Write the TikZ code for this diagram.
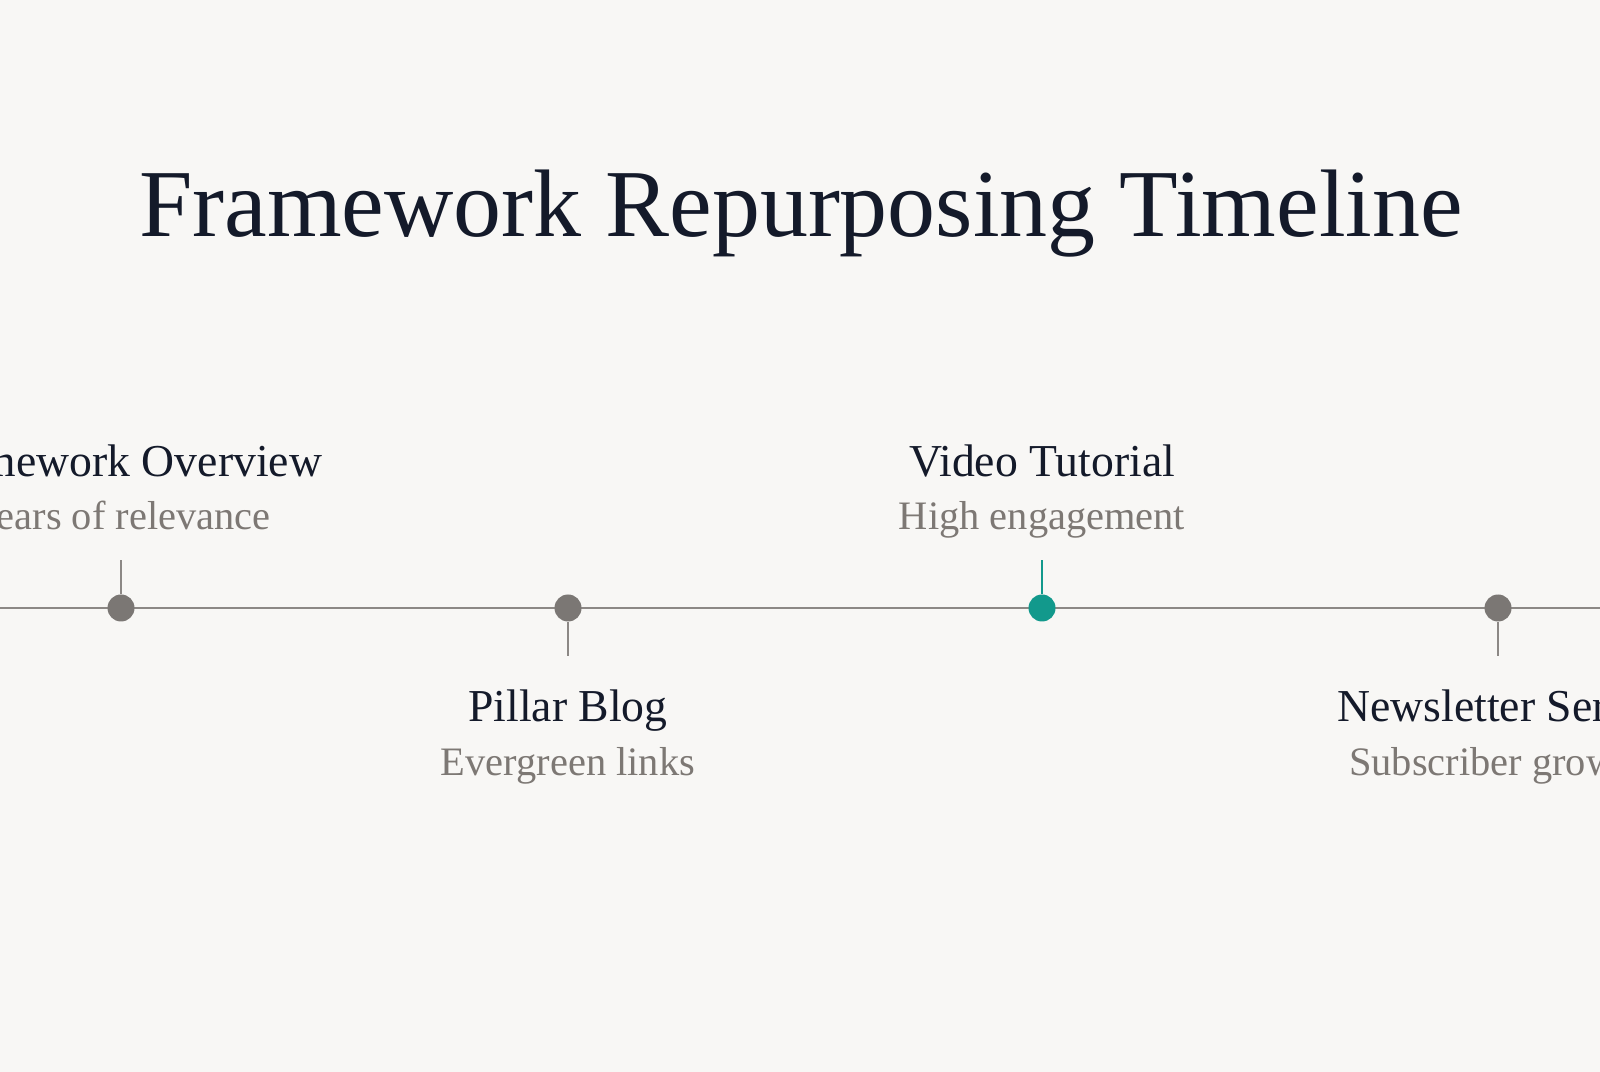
\documentclass[tikz,border=0pt]{standalone}
\usepackage{fontspec}
\setmainfont{Liberation Serif}
\usetikzlibrary{positioning}

\definecolor{paper}{HTML}{F8F7F5}
\definecolor{ink}{HTML}{141A2A}
\definecolor{muted}{HTML}{7D7874}
\definecolor{rail}{HTML}{8C8885}
\definecolor{stone}{HTML}{7B7774}
\definecolor{teal}{HTML}{12998C}

\tikzset{
	milestone/.style = {circle, fill = stone, inner sep = 0pt, minimum size = 0.27cm},
	stem/.style = {draw = rail, line width = 0.45pt},
	head/.style = {anchor = base, text = ink, font = \fontsize{13}{15}\selectfont},
	sub/.style = {anchor = base, text = muted, font = \fontsize{11.5}{14}\selectfont}
}

\begin{document}
\begin{tikzpicture}

	% The page

	\fill [paper] (0, 0) rectangle (16, -10.72);
	\useasboundingbox (0, 0) rectangle (16, -10.72);
	\clip (0, 0) rectangle (16, -10.72);

	% Title

	\node (title) [anchor = base, text = ink, font = \fontsize{27.3}{32}\selectfont] at (8.01, -2.37) {Framework Repurposing Timeline};

	% The rail

	\coordinate (railL) at (0, -6.08);
	\coordinate (railR) at (16, -6.08);
	\draw [rail, line width = 0.6pt] (railL) -- (railR);

	% Milestones

	\node (overview) [milestone] at (1.21, -6.08) {};
	\node (blog) [milestone] at (5.68, -6.08) {};
	\node (video) [milestone, fill = teal] at (10.42, -6.08) {};
	\node (letter) [milestone] at (14.98, -6.08) {};

	% Stems

	\coordinate (overviewTop) at (1.21, -5.60);
	\coordinate (blogBot) at (5.68, -6.56);
	\coordinate (videoTop) at (10.42, -5.60);
	\coordinate (letterBot) at (14.98, -6.56);

	\draw [stem] (overview) -- (overviewTop);
	\draw [stem] (blog) -- (blogBot);
	\draw [stem, draw = teal] (video) -- (videoTop);
	\draw [stem] (letter) -- (letterBot);

	% Labels

	\node (overviewHead) [head] at (1.21, -4.77) {Framework Overview};
	\node (overviewSub) [sub] at (1.21, -5.30) {Years of relevance};

	\node (blogHead) [head] at (5.68, -7.21) {Pillar Blog};
	\node (blogSub) [sub] at (5.68, -7.75) {Evergreen links};

	\node (videoHead) [head] at (10.42, -4.77) {Video Tutorial};
	\node (videoSub) [sub] at (10.42, -5.30) {High engagement};

	\node (letterHead) [head] at (14.98, -7.21) {Newsletter Series};
	\node (letterSub) [sub] at (14.98, -7.75) {Subscriber growth};

\end{tikzpicture}
\end{document}
